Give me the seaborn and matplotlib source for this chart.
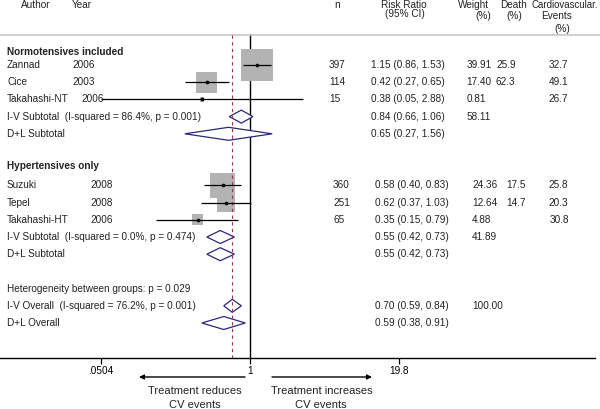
import numpy as np
import pandas as pd
import matplotlib
matplotlib.use("Agg")
import matplotlib.pyplot as plt
import seaborn as sns

# ---------------- data ----------------
studies = ["Zannad", "Cice", "Takahashi-NT", "Suzuki", "Tepel", "Takahashi-HT"]
years = ["2006", "2003", "2006", "2008", "2008", "2006"]
groups = ["Normotensives included"] * 3 + ["Hypertensives only"] * 3
n_pat = ["397", "114", "15", "360", "251", "65"]
rr = [1.15, 0.42, 0.38, 0.58, 0.62, 0.35]
rr_lo = [0.86, 0.27, 0.05, 0.40, 0.37, 0.15]
rr_hi = [1.53, 0.65, 2.88, 0.83, 1.03, 0.79]
weight = [39.91, 17.40, 0.81, 24.36, 12.64, 4.88]
weight_txt = ["39.91", "17.40", "0.81", "24.36", "12.64", "4.88"]
death = ["25.9", "62.3", "", "17.5", "14.7", ""]
cv_events = ["32.7", "49.1", "26.7", "25.8", "20.3", "30.8"]

pooled_labels = ["I-V Subtotal  (I-squared = 86.4%, p = 0.001)", "D+L Subtotal",
                 "I-V Subtotal  (I-squared = 0.0%, p = 0.474)", "D+L Subtotal",
                 "I-V Overall  (I-squared = 76.2%, p = 0.001)", "D+L Overall"]
pooled_est = [0.84, 0.65, 0.55, 0.55, 0.70, 0.59]
pooled_lo = [0.66, 0.27, 0.42, 0.42, 0.59, 0.38]
pooled_hi = [1.06, 1.56, 0.73, 0.73, 0.84, 0.91]
pooled_weight = ["58.11", "", "41.89", "", "100.00", ""]
heterogeneity_note = "Heterogeneity between groups: p = 0.029"
overall_line = 0.70

tick_vals = [0.0504, 1, 19.8]
tick_labels = [".0504", "1", "19.8"]

# ---------------- layout (pixel rows) ----------------
W, H = 600, 409
AXR = 595.0
study_y = [65, 82.2, 99.4, 185.4, 202.6, 219.8]
pooled_y = [116.6, 133.8, 237, 254.2, 305.8, 323]
group_y = {"Normotensives included": 52, "Hypertensives only": 166}
het_y = 288.6

sns.set_style("white")
plt.rcParams["font.family"] = ["Liberation Sans", "DejaVu Sans"]
FS = 7.2
NAVY = "#2a2878"
TXT = "#222222"

fig = plt.figure(figsize=(W / 100, H / 100), dpi=100)
ax = fig.add_axes([0, (H - 358) / H, AXR / W, 358 / H])
ax.set_xscale("log")
ax.set_xlim(0.0066, 1020)
ax.set_ylim(358, 0)
for s in ["left", "right", "top"]:
    ax.spines[s].set_visible(False)
ax.spines["bottom"].set_color("black")
ax.spines["bottom"].set_linewidth(1.0)
ax.set_yticks([])
ax.set_xticks(tick_vals)
ax.set_xticklabels(tick_labels)
ax.minorticks_off()
ax.tick_params(axis="x", direction="out", length=4, width=0.9, pad=2,
               labelsize=FS, colors="black", bottom=True)

tr = ax.get_yaxis_transform()  # x: axes fraction, y: data


def px(x):
    return x / AXR


# header
hdr = dict(transform=tr, fontsize=FS, va="center", color=TXT)
ax.text(px(21), 4.8, "Author", ha="left", **hdr)
ax.text(px(72), 4.8, "Year", ha="left", **hdr)
ax.text(px(337), 4.8, "n", ha="center", **hdr)
ax.text(px(404), 4.8, "Risk Ratio", ha="center", **hdr)
ax.text(px(405), 14, "(95% CI)", ha="center", **hdr)
ax.text(px(458), 4.8, "Weight", ha="left", **hdr)
ax.text(px(500), 4.8, "Death", ha="left", **hdr)
ax.text(px(531), 4.8, "Cardiovascular.", ha="left", transform=tr, fontsize=6.9,
        va="center", color=TXT)
ax.text(px(483), 16, "(%)", ha="center", **hdr)
ax.text(px(514), 16, "(%)", ha="center", **hdr)
ax.text(px(557), 16, "Events", ha="center", **hdr)
ax.text(px(562), 29, "(%)", ha="center", **hdr)

# top rule
ax.plot([0, 1.01], [34.5, 34.5], transform=tr, color="#c8c8c8", lw=1.2, clip_on=False)

# reference lines
ax.plot([1, 1], [34, 358], color="black", lw=1.0, zorder=1)

# group headings
for g, y in group_y.items():
    ax.text(px(7), y, g, transform=tr, fontsize=FS, fontweight="bold",
            ha="left", va="center", color=TXT)

# study rows
df = pd.DataFrame({"study": studies, "year": years, "group": groups, "rr": rr,
                   "lo": rr_lo, "hi": rr_hi, "weight": weight, "y": study_y})
year_x = [72.7, 72.7, 81.7, 90.7, 90.7, 90.7]
col_x = {"Normotensives included": dict(n=329, ci=371, w=466.7, d=496, cv=548.3),
         "Hypertensives only": dict(n=333, ci=375, w=472, d=506.7, cv=548.3)}
cv_x_adj = [0, 0, 0, 0, 0, 1.7]

ax.hlines(df["y"], df["lo"], df["hi"], color="black", lw=0.9, zorder=3)
sns.scatterplot(data=df, x="rr", y="y", size="weight", sizes=(0, 0.72 ** 2 * 32 ** 2),
                size_norm=(0, 39.91), marker="s", color="#b3b3b3", linewidth=0,
                legend=False, ax=ax, zorder=2)
sns.scatterplot(data=df, x="rr", y="y", marker="o", s=7, color="black",
                linewidth=0, legend=False, ax=ax, zorder=4)

for i in range(len(studies)):
    y = study_y[i]
    c = col_x[groups[i]]
    kw = dict(transform=tr, fontsize=FS, va="center", ha="left", color=TXT)
    ax.text(px(7), y, studies[i], **kw)
    ax.text(px(year_x[i]), y, years[i], **kw)
    ax.text(px(c["n"]), y, n_pat[i], **kw)
    ax.text(px(c["ci"]), y, f"{rr[i]:.2f} ({rr_lo[i]:.2f}, {rr_hi[i]:.2f})", **kw)
    ax.text(px(c["w"]), y, weight_txt[i], **kw)
    ax.text(px(c["d"]), y, death[i], **kw)
    ax.text(px(c["cv"] + cv_x_adj[i]), y, cv_events[i], **kw)

# pooled rows
pooled_ci_x = [371, 371, 375, 375, 375, 375]
pooled_w_x = [466.7, 466.7, 472, 472, 472, 472]
for j in range(len(pooled_labels)):
    y = pooled_y[j]
    e, lo, hi = pooled_est[j], pooled_lo[j], pooled_hi[j]
    ax.fill([lo, e, hi, e, lo], [y, y - 6.5, y, y + 6.5, y], facecolor="white",
            edgecolor=NAVY, lw=0.9, zorder=2)
    kw = dict(transform=tr, fontsize=FS, va="center", ha="left", color=TXT)
    ax.text(px(7), y, pooled_labels[j], **kw)
    ax.text(px(pooled_ci_x[j]), y, f"{e:.2f} ({lo:.2f}, {hi:.2f})", **kw)
    ax.text(px(pooled_w_x[j]), y, pooled_weight[j], **kw)

# dashed overall line (drawn over diamond fills)
ax.plot([overall_line, overall_line], [35, 358], color="#a3304f", lw=0.8,
        dashes=(3, 3), zorder=2.5)

ax.text(px(7), het_y, heterogeneity_note, transform=tr, fontsize=FS, ha="left",
        va="center", color=TXT)

# arrows and direction labels
arrow_kw = dict(arrowstyle="-|>", color="black", lw=1.0, mutation_scale=7,
                shrinkA=0, shrinkB=0)
ax.annotate("", xy=(px(139), 377), xytext=(px(245), 377), xycoords=tr,
            textcoords=tr, arrowprops=arrow_kw, annotation_clip=False)
ax.annotate("", xy=(px(372), 377), xytext=(px(272), 377), xycoords=tr,
            textcoords=tr, arrowprops=arrow_kw, annotation_clip=False)
lab = dict(transform=tr, fontsize=8, ha="center", va="center", color=TXT)
ax.text(px(195), 391, "Treatment reduces", **lab)
ax.text(px(195), 404.5, "CV events", **lab)
ax.text(px(322), 391, "Treatment increases", **lab)
ax.text(px(321), 404.5, "CV events", **lab)

ax.set_xlabel("")
ax.set_ylabel("")
fig.savefig("out.png", dpi=100, facecolor="white")
